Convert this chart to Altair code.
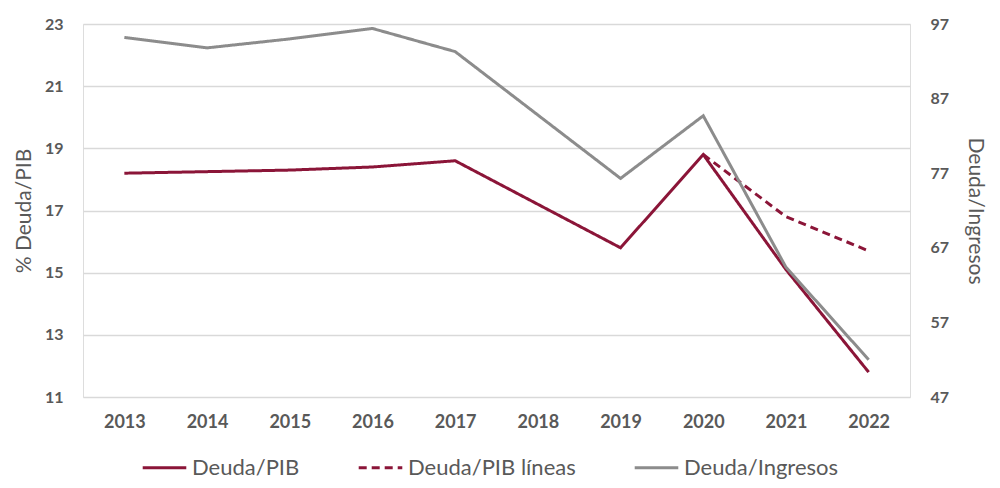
import altair as alt
import pandas as pd

years = ["2013", "2014", "2015", "2016", "2017", "2018", "2019", "2020", "2021", "2022"]
deuda_pib = [18.2, 18.25, 18.3, 18.4, 18.6, 17.2, 15.8, 18.8, 15.1, 11.8]
lineas_years = ["2020", "2021", "2022"]
deuda_pib_lineas = [18.8, 16.8, 15.7]
deuda_ingresos = [95.2, 93.8, 95.0, 96.4, 93.3, 84.8, 76.3, 84.7, 64.4, 52.0]

series_names = ["Deuda/PIB", "Deuda/PIB líneas", "Deuda/Ingresos"]
series_colors = ["#8B1538", "#8B1538", "#8C8C8C"]
series_dash = [[1, 0], [8, 5], [1, 0]]

left_ticks = [11, 13, 15, 17, 19, 21, 23]
right_ticks = [47, 57, 67, 77, 87, 97]

rows = []
for y, v in zip(years, deuda_pib):
    rows.append({"year": y, "serie": "Deuda/PIB", "value": v})
for y, v in zip(lineas_years, deuda_pib_lineas):
    rows.append({"year": y, "serie": "Deuda/PIB líneas", "value": v})
for y, v in zip(years, deuda_ingresos):
    rows.append({"year": y, "serie": "Deuda/Ingresos", "value": v})
df = pd.DataFrame(rows)

FONT = "Lato"
TXT = "#595959"

legend = alt.Legend(
    title=None, orient="none", legendX=58, legendY=420, direction="horizontal",
    symbolType="stroke", symbolSize=1900, symbolStrokeWidth=3,
    labelFont=FONT, labelFontSize=22, labelColor=TXT, labelOffset=4, labelLimit=400,
    columnPadding=52, padding=0,
)

color = alt.Color("serie:N", scale=alt.Scale(domain=series_names, range=series_colors), legend=legend)
dash = alt.StrokeDash("serie:N", scale=alt.Scale(domain=series_names, range=series_dash), legend=legend)

x = alt.X("year:O", sort=years, scale=alt.Scale(type="point", padding=0.5, domain=years),
          axis=alt.Axis(title=None, labelAngle=0, domain=False, ticks=False, labelPadding=16,
                        labelFont=FONT, labelFontSize=18, labelFontWeight="bold", labelColor=TXT))

left = alt.Chart(df).transform_filter(
    alt.FieldOneOfPredicate(field="serie", oneOf=["Deuda/PIB", "Deuda/PIB líneas"])
).mark_line(strokeWidth=3).encode(
    x=x,
    y=alt.Y("value:Q", scale=alt.Scale(domain=[11, 23], nice=False, zero=False),
            axis=alt.Axis(title="% Deuda/PIB", values=left_ticks, domain=False, ticks=False,
                          labelPadding=20, labelFont=FONT, labelFontSize=16, labelFontWeight="bold",
                          labelColor=TXT, titleFont=FONT, titleFontSize=21, titleFontWeight="normal",
                          titleColor=TXT, titlePadding=10, grid=True, gridColor="#D9D9D9",
                          gridWidth=1.5)),
    color=color,
    strokeDash=dash,
    detail="serie:N",
)

right = alt.Chart(df).transform_filter(
    alt.FieldEqualPredicate(field="serie", equal="Deuda/Ingresos")
).mark_line(strokeWidth=3).encode(
    x=x,
    y=alt.Y("value:Q", scale=alt.Scale(domain=[47, 97], nice=False, zero=False),
            axis=alt.Axis(title="Deuda/Ingresos", orient="right", values=right_ticks, domain=False,
                          ticks=False, grid=False, labelPadding=20, labelFont=FONT, labelFontSize=16,
                          labelFontWeight="bold", labelColor=TXT, titleFont=FONT, titleFontSize=21,
                          titleFontWeight="normal", titleColor=TXT, titlePadding=16)),
    color=color,
    strokeDash=dash,
)

chart = alt.layer(left, right).resolve_scale(y="independent").properties(
    width=827, height=373,
    autosize=alt.AutoSizeParams(type="none"),
    padding={"left": 75, "top": 16, "right": 82, "bottom": 83},
).configure_view(stroke=None).configure(background="white")

chart.save("out.html", embed_options={"renderer": "svg", "actions": False})
